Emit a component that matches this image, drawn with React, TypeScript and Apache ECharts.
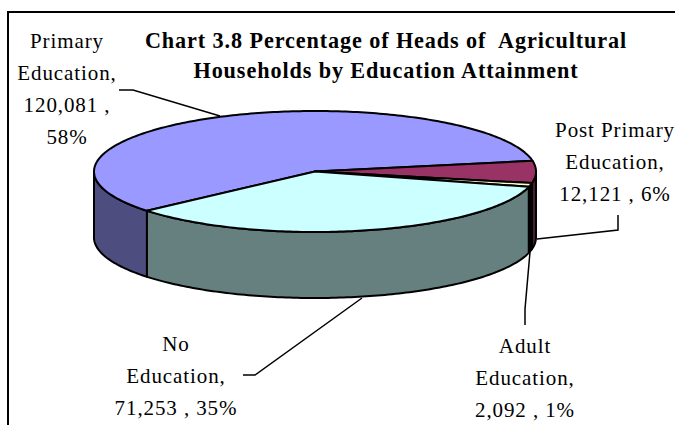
import React, { useEffect, useRef } from "react";
import * as echarts from "echarts";

const categories = ["Primary Education", "Post Primary Education", "Adult Education", "No Education"];
const values = [120081, 12121, 2092, 71253];
const topColors = ["#9999FF", "#993366", "#FFFFCC", "#CCFFFF"];
const wallColors = ["#4D4D80", "#4D1A33", "#000000", "#668080"];
const titleLines = ["Chart 3.8 Percentage of Heads of  Agricultural", "Households by Education Attainment"];
const labelLines = [
  ["Primary", "Education,", "120,081 ,", "58%"],
  ["Post Primary", "Education,", "12,121 , 6%"],
  ["Adult", "Education,", "2,092 , 1%"],
  ["No", "Education,", "71,253 , 35%"],
];
const labelAnchors = [[67, 41], [615, 130], [525, 346], [176, 344]];
const leaders = [
  [[119, 90], [133, 90], [220, 116]],
  [[537, 239], [618, 230], [618, 215]],
  [[530, 252], [525, 309], [525, 325]],
  [[243, 375], [255, 375], [362, 298]],
];

const CX = 315;
const CY = 171.5;
const RX = 221;
const RY = 60.5;
const DEPTH = 66;
const START = 139.5;
const total = values.reduce((a, b) => a + b, 0);
const FONT = '"Liberation Serif", serif';

function pt(deg: number, dy = 0): number[] {
  const r = (deg * Math.PI) / 180;
  return [CX + RX * Math.cos(r), CY + dy + RY * Math.sin(r)];
}
function arc(a: number, b: number, dy = 0): number[][] {
  const out: number[][] = [];
  const n = Math.max(1, Math.ceil(Math.abs(b - a)));
  for (let i = 0; i <= n; i++) out.push(pt(a + ((b - a) * i) / n, dy));
  return out;
}

export default function App() {
  const ref = useRef<HTMLDivElement>(null);
  useEffect(() => {
    const chart = echarts.init(ref.current!, undefined, { renderer: "svg" });
    const renderItem = (params: any, api: any) => {
      const i = params.dataIndex;
      let before = 0;
      for (let k = 0; k < i; k++) before += values[k];
      const a = START + (before / total) * 360;
      const b = a + (api.value(0) / total) * 360;
      const children: any[] = [];
      const stroke = { stroke: "#000", lineWidth: 2, lineJoin: "round" };
      for (const k of [0, 360]) {
        const lo = Math.max(a, k);
        const hi = Math.min(b, k + 180);
        if (hi > lo) {
          children.push({
            type: "polygon",
            shape: { points: [...arc(lo, hi), ...arc(hi, lo, DEPTH)] },
            style: { fill: wallColors[i], ...stroke },
          });
        }
      }
      children.push({
        type: "polygon",
        shape: { points: [[CX, CY], ...arc(a, b)] },
        style: { fill: topColors[i], ...stroke },
      });
      return { type: "group", children };
    };
    const texts: any[] = [];
    titleLines.forEach((t, i) =>
      texts.push({
        type: "text",
        x: 386,
        y: 40 + i * 30,
        style: { text: t, fill: "#000", font: `bold 22.2px ${FONT}`, align: "center", verticalAlign: "middle" },
      })
    );
    labelLines.forEach((lines, i) =>
      lines.forEach((t, j) =>
        texts.push({
          type: "text",
          x: labelAnchors[i][0],
          y: labelAnchors[i][1] + j * 32,
          style: { text: t, fill: "#000", font: `21px ${FONT}`, align: "center", verticalAlign: "middle" },
        })
      )
    );
    chart.setOption({
      animation: false,
      backgroundColor: "#fff",
      graphic: [
        {
          type: "rect",
          shape: { x: 8, y: 12, width: 700, height: 440 },
          style: { fill: "#fff", stroke: "#000", lineWidth: 2 },
          z: -10,
        },
        ...leaders.map((points) => ({
          type: "polyline",
          shape: { points },
          style: { stroke: "#000", lineWidth: 1.5, fill: "none" },
          z: 5,
        })),
        ...texts.map((t) => ({ ...t, z: 6 })),
      ],
      series: [
        {
          type: "custom",
          coordinateSystem: "none",
          renderItem,
          silent: true,
          z: 3,
          data: categories.map((name, i) => ({ name, value: [values[i]] })),
        },
      ],
    });
    return () => chart.dispose();
  }, []);
  return (
    <div
      ref={ref}
      style={{ position: "fixed", left: 0, top: 0, width: 675, height: 425, letterSpacing: "0.9px" }}
    />
  );
}
